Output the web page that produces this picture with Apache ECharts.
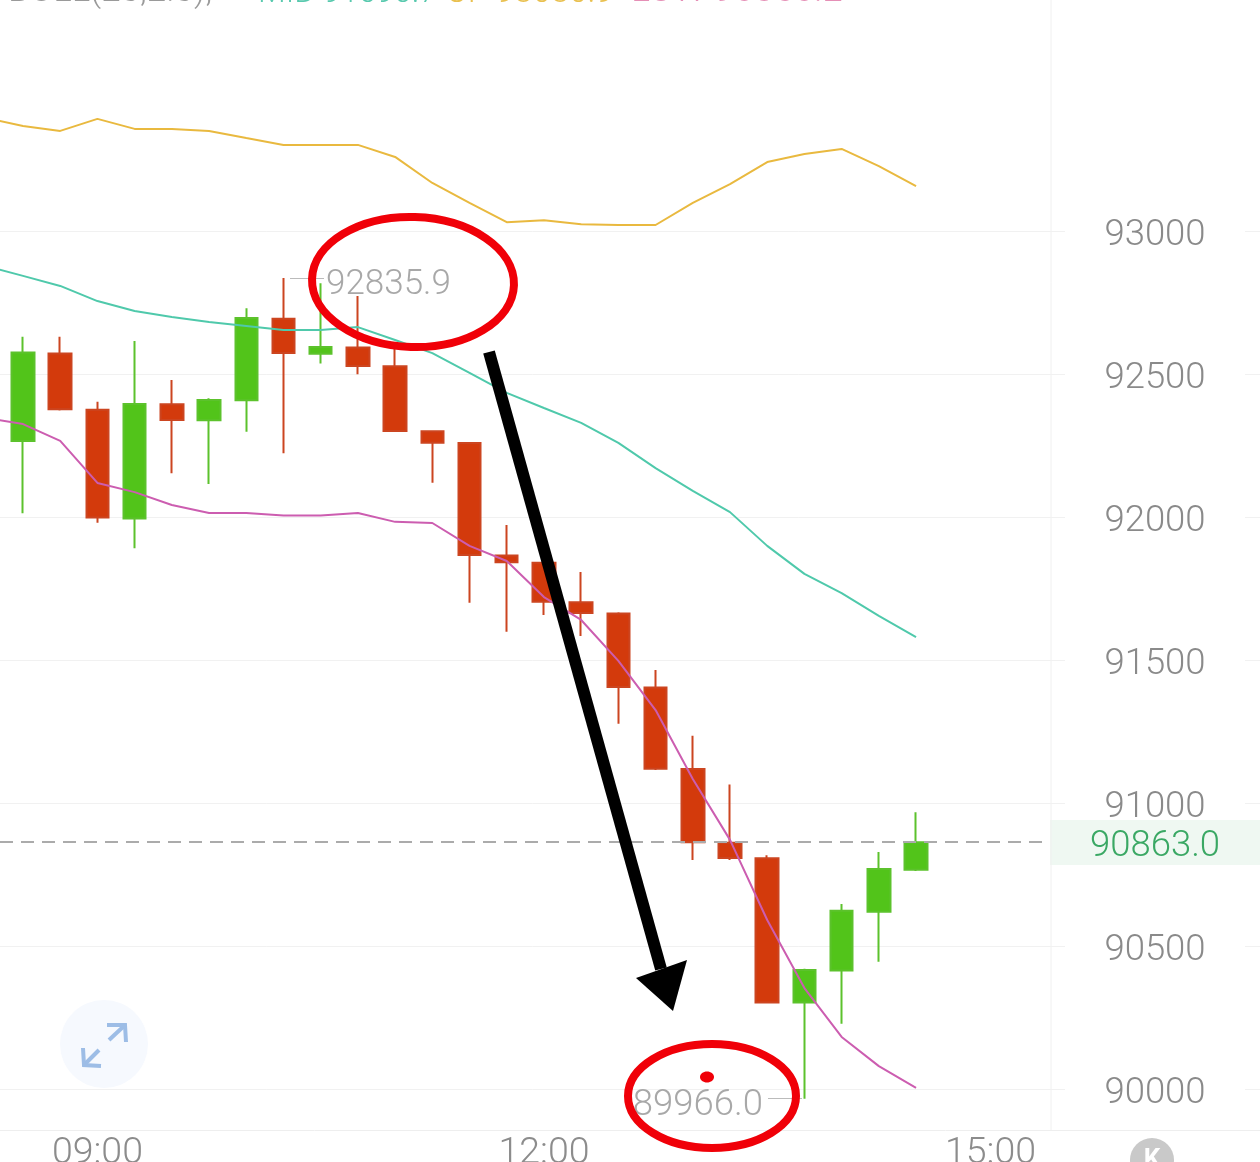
<!DOCTYPE html>
<html>
<head>
<meta charset="utf-8">
<style>html,body{margin:0;padding:0;background:#fff;}#chart{width:1260px;height:1162px;}</style>
<script src="https://cdn.jsdelivr.net/npm/echarts@6/dist/echarts.min.js"></script>
</head>
<body>
<div id="chart"></div>
<script>
// 15 minute bars, first slot only carries the band lines
const categories = ['08:15','08:30','08:45','09:00','09:15','09:30','09:45','10:00','10:15','10:30','10:45','11:00','11:15','11:30','11:45','12:00','12:15','12:30','12:45','13:00','13:15','13:30','13:45','14:00','14:15','14:30','14:45','15:00','15:15','15:30','15:45','16:00','16:15','16:30','16:45'];
const timeLabels = ['09:00', '12:00', '15:00'];
const priceTicks = [90000, 90500, 91000, 91500, 92000, 92500, 93000];

const opens  = [92266,92572,92375,91995,92394,92338,92408,92693,92571,92593,92527,92300,92259,91865,91840,91702,91663,91404,91119,90861,90807,90302,90414,90620,90767];
const closes = [92575,92377,91998,92395,92339,92409,92696,92573,92594,92528,92301,92260,91867,91842,91704,91664,91406,91120,90863,90808,90302,90416,90623,90769,90863];
const lows   = [92013,92372,91980,91891,92153,92115,92298,92223,92537,92499,92301,92120,91700,91599,91657,91584,91277,91115,90801,90801,90302,89966,90228,90445,90762];
const highs  = [92630,92630,92403,92615,92479,92415,92730,92835.9,92817,92773,92591,92300,92259,91972,91842,91808,91667,91465,91235,91065,90817,90420,90647,90829,90968];

const bollUp  = [93395,93367,93350,93392,93357,93357,93350,93325,93301,93301,93301,93259,93168,93098,93031,93038,93024,93021,93021,93098,93164,93241,93269,93287,93227,93157];
const bollMid = [92878,92843,92808,92755,92720,92699,92682,92668,92654,92654,92664,92619,92573,92504,92434,92381,92329,92259,92171,92091,92017,91899,91801,91734,91654,91580];
const bollLow = [92346,92325,92266,92119,92087,92042,92014,92014,92005,92005,92014,91983,91979,91899,91846,91720,91640,91497,91325,91084,90871,90591,90353,90182,90080,90004];

const lastPrice = 90863.0;
const highPrice = 92835.9;
const lowPrice = 89966.0;

const RED = '#d33a0c';
const GREEN = '#52c41a';
const numFont = 'Roboto, sans-serif';

const candleData = [['-','-','-','-']].concat(opens.map((o, i) => [o, closes[i], lows[i], highs[i]]));

// y range that puts 500 points on 143px, shared by all the grids
const yMin = 89856.6;
const yMax = 93807.7;
const plotH = 1130;

const myChart = echarts.init(document.getElementById('chart'), null, { renderer: 'canvas' });

const hiddenX = gridIndex => ({ type: 'value', gridIndex: gridIndex, min: 0, max: 1, show: false });
const splitColor = '#f1f1f1';

myChart.setOption({
    animation: false,
    backgroundColor: '#fff',
    grid: [
        { left: -32.8, top: 0, width: 1302.35, height: plotH, outerBoundsMode: 'none' },
        { left: 0, top: 0, width: 1065, height: plotH, outerBoundsMode: 'none' },
        { left: 1245, top: 0, width: 15, height: plotH, outerBoundsMode: 'none' }
    ],
    xAxis: [
        {
            type: 'category',
            gridIndex: 0,
            data: categories,
            boundaryGap: true,
            axisLine: { lineStyle: { color: '#eeeeee', width: 1 } },
            axisTick: { show: false },
            splitLine: { show: false },
            axisLabel: {
                color: '#8c8c8c',
                fontFamily: numFont,
                fontWeight: 300,
                fontSize: 37.5,
                margin: 5,
                interval: (i, v) => timeLabels.indexOf(v) >= 0
            }
        },
        hiddenX(1),
        hiddenX(2)
    ],
    yAxis: [
        {
            type: 'value',
            gridIndex: 0,
            min: yMin,
            max: yMax,
            show: false
        },
        {
            type: 'value',
            gridIndex: 1,
            min: yMin,
            max: yMax,
            position: 'right',
            axisLine: { show: false },
            axisTick: { show: false, customValues: priceTicks },
            splitLine: { show: true, lineStyle: { color: splitColor, width: 1 } },
            axisLabel: {
                customValues: priceTicks.concat([lastPrice]),
                margin: 90,
                align: 'center',
                verticalAlign: 'top',
                lineHeight: 10,
                fontFamily: numFont,
                fontWeight: 300,
                fontSize: 36.5,
                color: v => (Number(v) === lastPrice ? '#3aa864' : '#8a8a8a'),
                formatter: v => (Number(v) === lastPrice ? Number(v).toFixed(1) : String(v))
            }
        },
        {
            type: 'value',
            gridIndex: 2,
            min: yMin,
            max: yMax,
            axisLine: { show: false },
            axisTick: { show: false, customValues: priceTicks },
            axisLabel: { show: false },
            splitLine: { show: true, lineStyle: { color: splitColor, width: 1 } }
        }
    ],
    series: [
        {
            type: 'candlestick',
            xAxisIndex: 0,
            yAxisIndex: 0,
            barWidth: 23,
            data: candleData,
            itemStyle: {
                color: GREEN,
                color0: RED,
                borderColor: '#5cc22c',
                borderColor0: '#cc4520',
                borderWidth: 2
            },
            markLine: {
                silent: true,
                symbol: 'none',
                animation: false,
                lineStyle: { color: '#bbbbbb', width: 1, type: 'solid' },
                label: {
                    position: 'end',
                    distance: 2,
                    color: '#a8a8a8',
                    fontFamily: numFont,
                    fontWeight: 300,
                    fontSize: 35,
                    verticalAlign: 'top',
                    lineHeight: 14
                },
                data: [
                    [
                        { x: 0, yAxis: lastPrice, lineStyle: { color: '#ababab', width: 2, type: [13, 8] }, label: { show: false } },
                        { x: 1050, yAxis: lastPrice }
                    ],
                    [
                        { x: 290, yAxis: highPrice, label: { formatter: highPrice.toFixed(1) } },
                        { x: 324, yAxis: highPrice }
                    ],
                    [
                        { x: 802, yAxis: lowPrice, label: { formatter: lowPrice.toFixed(1), fontSize: 36.5, distance: 5 } },
                        { x: 768, yAxis: lowPrice }
                    ]
                ]
            }
        },
        { type: 'line', xAxisIndex: 0, yAxisIndex: 0, data: bollUp, symbol: 'none', z: 3, lineStyle: { color: '#e9b93f', width: 2 } },
        { type: 'line', xAxisIndex: 0, yAxisIndex: 0, data: bollMid, symbol: 'none', z: 3, lineStyle: { color: '#4fc9ab', width: 2 } },
        { type: 'line', xAxisIndex: 0, yAxisIndex: 0, data: bollLow, symbol: 'none', z: 3, lineStyle: { color: '#cc5db0', width: 2 } }
    ],
    graphic: [
        // price tag band and the divider next to the price column
        { type: 'rect', z: -1, shape: { x: 1050, y: 820, width: 210, height: 45 }, style: { fill: '#eff8f2' } },
        { type: 'line', z: 0, shape: { x1: 1051, y1: 0, x2: 1051, y2: 1130 }, style: { stroke: '#f0f0f0', lineWidth: 1 } },

        // header of the indicator, cut by the top of the picture
        { type: 'text', x: 8, y: 10, style: { text: 'BOLL(20,2.0),', fill: '#9a9a9a', font: '300 35px Roboto', textVerticalAlign: 'bottom' } },
        { type: 'text', x: 258, y: 10, style: { text: 'MID 91690.7', fill: '#58c9ae', font: '300 32px Roboto', textVerticalAlign: 'bottom' } },
        { type: 'text', x: 446, y: 10, style: { text: 'UP 93030.9', fill: '#e9c04f', font: '300 33px Roboto', textVerticalAlign: 'bottom' } },
        { type: 'text', x: 631, y: 10, style: { text: 'LOW 90350.2', fill: '#e58fb6', font: '300 36px Roboto', textVerticalAlign: 'bottom' } },

        // expand button
        { type: 'circle', z: 1, shape: { cx: 104, cy: 1044, r: 44 }, style: { fill: '#f6f9fe' } },
        { type: 'polyline', z: 2, shape: { points: [[109, 1040], [124, 1026]] }, style: { stroke: '#9dbde6', lineWidth: 4, fill: null } },
        { type: 'polyline', z: 2, shape: { points: [[107, 1025], [125, 1025], [126, 1042]] }, style: { stroke: '#9dbde6', lineWidth: 4, fill: null } },
        { type: 'polyline', z: 2, shape: { points: [[99, 1050], [85, 1064]] }, style: { stroke: '#9dbde6', lineWidth: 4, fill: null } },
        { type: 'polyline', z: 2, shape: { points: [[83, 1048], [84, 1065], [101, 1066]] }, style: { stroke: '#9dbde6', lineWidth: 4, fill: null } },

        // K badge at the bottom
        { type: 'circle', z: 1, shape: { cx: 1152, cy: 1160, r: 22 }, style: { fill: '#c9c9c9' } },
        { type: 'text', z: 2, x: 1152, y: 1160, style: { text: 'K', fill: '#fff', font: 'bold 26px Roboto', textAlign: 'center', textVerticalAlign: 'middle' } },

        // hand drawn marks on the screenshot
        { type: 'ellipse', z: 100, rotation: -0.03, originX: 413, originY: 282, shape: { cx: 413, cy: 282, rx: 101, ry: 65 }, style: { stroke: '#f00008', lineWidth: 8, fill: null } },
        { type: 'ellipse', z: 100, shape: { cx: 712, cy: 1096, rx: 84, ry: 52 }, style: { stroke: '#f00008', lineWidth: 8, fill: null } },
        { type: 'ellipse', z: 100, shape: { cx: 707, cy: 1077, rx: 7, ry: 5.5 }, style: { fill: '#f00008' } },
        { type: 'line', z: 100, shape: { x1: 489, y1: 352, x2: 661, y2: 969 }, style: { stroke: '#000', lineWidth: 12 } },
        { type: 'polygon', z: 100, shape: { points: [[636, 978], [687, 960], [673, 1011]] }, style: { fill: '#000' } }
    ]
});
</script>
</body>
</html>
